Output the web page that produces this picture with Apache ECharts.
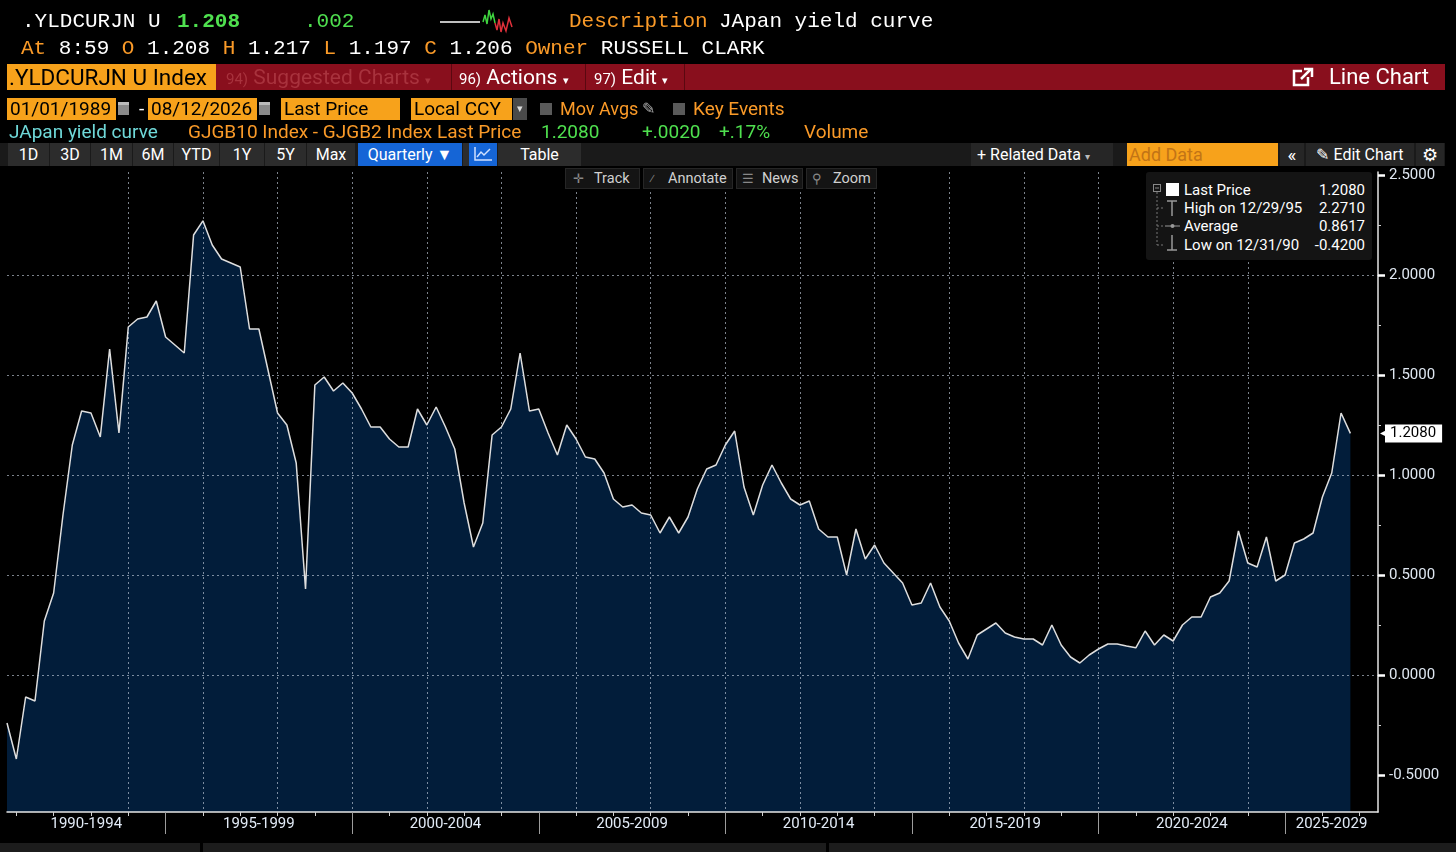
<!DOCTYPE html>
<html>
<head>
<meta charset="utf-8">
<script src="https://cdn.jsdelivr.net/npm/echarts@6/dist/echarts.min.js"></script>
<style>
html,body{margin:0;padding:0;background:#000;width:1456px;height:852px;overflow:hidden}
#chart{position:absolute;left:0;top:0;width:1456px;height:852px}
.a{position:absolute;white-space:pre}
.mono{font-family:"Liberation Mono","DejaVu Sans Mono",monospace;font-size:21px;line-height:24px;color:#fff}
.n{font-family:Roboto,"Liberation Sans",sans-serif}
.or{color:#fa9a28}.gr{color:#4fe04f}.wh{color:#fff}
.obox{position:absolute;background:#f7a21b;color:#000;font-size:19px;line-height:22px;height:22px;padding-left:3px;box-sizing:border-box}
.btn{position:absolute;top:143px;height:23px;background:#2c2c2c;color:#fff;font-size:16px;line-height:23px;text-align:center;box-sizing:border-box}
.tb{position:absolute;top:168px;height:21px;background:#141414;border:1px solid #262626;color:#d0d0d0;font-size:14.5px;line-height:19px;box-sizing:border-box;z-index:5}
.tb i{position:absolute;font-style:normal;color:#888;font-size:13px}
.tb b{position:absolute;font-weight:normal}
.lg{position:absolute;font-size:15px;line-height:18px;color:#fff;z-index:6}
.r5{font-size:19px;line-height:22px}
</style>
</head>
<body>
<div id="chart"></div>

<!-- row 1 -->
<div class="a mono" style="left:22px;top:10px">.YLDCURJN U</div>
<div class="a mono gr" style="left:177px;top:10px;font-weight:bold">1.208</div>
<div class="a mono gr" style="left:304px;top:10px">.002</div>
<svg class="a" style="left:440px;top:6px" width="76" height="30">
  <line x1="0" y1="16" x2="40" y2="16" stroke="#fff" stroke-width="1.5"/>
  <polyline points="43,16 45,9 47,18 49,4 51,13 53,8 55,17" fill="none" stroke="#3fd43f" stroke-width="1.5"/>
  <polyline points="55,17 57,24 59,13 61,26 63,17 66,25 69,12 72,21" fill="none" stroke="#e0303a" stroke-width="1.5"/>
</svg>
<div class="a mono or" style="left:569px;top:10px">Description</div>
<div class="a mono" style="left:719px;top:10px">JApan yield curve</div>
<!-- row 2 -->
<div class="a mono" style="left:21px;top:37px"><span class="or">At</span> 8:59 <span class="or">O</span> 1.208 <span class="or">H</span> 1.217 <span class="or">L</span> 1.197 <span class="or">C</span> 1.206 <span class="or">Owner</span> RUSSELL CLARK</div>

<!-- row 3 red bar -->
<div class="a" style="left:216px;top:64px;width:1229px;height:26px;background:#890f1d"></div>
<div class="a n" style="left:7px;top:64px;width:209px;height:26px;background:#f7a21b;color:#000;font-size:22.5px;line-height:26px;padding-left:2px;box-sizing:border-box">.YLDCURJN U Index</div>
<div class="a n" style="left:226px;top:64px;color:#a8323d;font-size:21px;line-height:26px"><span style="font-size:15px">94)</span> Suggested Charts <span style="font-size:11px">▾</span></div>
<div class="a" style="left:451px;top:64px;width:1px;height:26px;background:#5a0810"></div>
<div class="a n" style="left:459px;top:64px;color:#fff;font-size:21px;line-height:26px"><span style="font-size:15px">96)</span> Actions <span style="font-size:11px">▾</span></div>
<div class="a" style="left:585px;top:64px;width:1px;height:26px;background:#5a0810"></div>
<div class="a n" style="left:594px;top:64px;color:#fff;font-size:21px;line-height:26px"><span style="font-size:15px">97)</span> Edit <span style="font-size:11px">▾</span></div>
<div class="a" style="left:684px;top:64px;width:1px;height:26px;background:#5a0810"></div>
<svg class="a" style="left:1292px;top:67px" width="22" height="20">
  <rect x="2" y="4" width="14" height="14" fill="none" stroke="#fff" stroke-width="2.5"/>
  <rect x="10" y="0" width="12" height="10" fill="#890f1d"/>
  <polyline points="9,12 19,2" stroke="#fff" stroke-width="2.5"/>
  <polyline points="12,2 20,2 20,10" fill="none" stroke="#fff" stroke-width="2.5"/>
</svg>
<div class="a n" style="left:1329px;top:64px;color:#fff;font-size:22px;line-height:26px">Line Chart</div>

<!-- row 4 -->
<div class="obox n" style="left:7px;top:98px;width:109px">01/01/1989</div>
<div class="a" style="left:118px;top:102px;width:11px;height:13px;background:#8a8a8a;border-top:3px solid #bbb;box-sizing:border-box"></div>
<div class="a n wh" style="left:139px;top:97px;font-size:19px">-</div>
<div class="obox n" style="left:148px;top:98px;width:109px">08/12/2026</div>
<div class="a" style="left:259px;top:102px;width:11px;height:13px;background:#8a8a8a;border-top:3px solid #bbb;box-sizing:border-box"></div>
<div class="obox n" style="left:281px;top:98px;width:119px">Last Price</div>
<div class="obox n" style="left:411px;top:98px;width:101px">Local CCY</div>
<div class="a n" style="left:513px;top:98px;width:14px;height:22px;background:#4a4a4a;color:#ddd;font-size:11px;line-height:22px;text-align:center">▾</div>
<div class="a" style="left:540px;top:103px;width:12px;height:12px;background:#5a5a5a"></div>
<div class="a n or" style="left:560px;top:98px;font-size:18px;line-height:22px">Mov Avgs</div>
<div class="a n" style="left:642px;top:98px;font-size:16px;line-height:22px;color:#aaa">✎</div>
<div class="a" style="left:673px;top:103px;width:12px;height:12px;background:#5a5a5a"></div>
<div class="a n or r5" style="left:693px;top:98px">Key Events</div>

<!-- row 5 -->
<div class="a n r5" style="left:9px;top:121px;color:#6fd8d8">JApan yield curve</div>
<div class="a n or r5" style="left:188px;top:121px">GJGB10 Index - GJGB2 Index Last Price</div>
<div class="a n gr r5" style="left:541px;top:121px">1.2080</div>
<div class="a n gr r5" style="left:642px;top:121px">+.0020</div>
<div class="a n gr r5" style="left:719px;top:121px">+.17%</div>
<div class="a n or r5" style="left:804px;top:121px">Volume</div>

<!-- row 6 -->
<div class="a" style="left:0;top:143px;width:1445px;height:23px;background:#1a1a1a"></div>
<div class="btn n" style="left:8px;width:41px">1D</div>
<div class="btn n" style="left:50px;width:40px">3D</div>
<div class="btn n" style="left:91px;width:41px">1M</div>
<div class="btn n" style="left:133px;width:40px">6M</div>
<div class="btn n" style="left:174px;width:45px">YTD</div>
<div class="btn n" style="left:220px;width:44px">1Y</div>
<div class="btn n" style="left:265px;width:41px">5Y</div>
<div class="btn n" style="left:307px;width:48px">Max</div>
<div class="btn n" style="left:358px;width:104px;background:#1565d6">Quarterly ▼</div>
<div class="btn n" style="left:463px;width:6px;background:#2c2c2c"></div>
<div class="btn" style="left:469px;width:28px;background:#1565d6">
  <svg width="20" height="16" style="margin-top:3px"><polyline points="2,1 2,14 19,14" fill="none" stroke="#cfe0ff" stroke-width="1.5"/><polyline points="4,11 8,6 11,9 17,3" fill="none" stroke="#cfe0ff" stroke-width="1.5"/></svg>
</div>
<div class="btn n" style="left:498px;width:83px">Table</div>
<div class="btn n" style="left:971px;width:142px;background:#262626;text-align:left;padding-left:6px">+ Related Data <span style="font-size:10px;color:#bbb">▾</span></div>
<div class="btn n" style="left:1127px;width:151px;background:#f7a21b;color:#c27416;text-align:left;padding-left:2px;font-size:18px">Add Data</div>
<div class="btn n" style="left:1280px;width:24px;background:#262626;font-size:19px">«</div>
<div class="btn n" style="left:1306px;width:108px;background:#262626">✎ Edit Chart</div>
<div class="btn n" style="left:1416px;width:28px;background:#262626;font-size:18px">⚙</div>

<!-- plot toolbar -->
<div class="tb n" style="left:565px;width:75px"><i style="left:7px">✛</i><b style="left:28px">Track</b></div>
<div class="tb n" style="left:643px;width:90px"><i style="left:5px">⁄</i><b style="left:24px">Annotate</b></div>
<div class="tb n" style="left:736px;width:67px"><i style="left:5px">☰</i><b style="left:25px">News</b></div>
<div class="tb n" style="left:806px;width:71px"><i style="left:5px">⚲</i><b style="left:26px">Zoom</b></div>

<!-- legend box -->
<div class="a" style="left:1146px;top:172px;width:226px;height:88px;background:#141414;border-radius:3px;z-index:5"></div>
<svg class="a" style="left:1150px;top:180px;z-index:6" width="34" height="72">
  <rect x="3.5" y="4.5" width="7" height="7" fill="none" stroke="#888"/>
  <line x1="5" y1="8" x2="9" y2="8" stroke="#888"/>
  <line x1="7" y1="12" x2="7" y2="65" stroke="#777" stroke-dasharray="2,2"/>
  <line x1="7" y1="28" x2="13" y2="28" stroke="#777" stroke-dasharray="2,2"/>
  <line x1="7" y1="46" x2="13" y2="46" stroke="#777" stroke-dasharray="2,2"/>
  <line x1="7" y1="65" x2="13" y2="65" stroke="#777" stroke-dasharray="2,2"/>
  <rect x="16" y="3" width="13" height="13" fill="#fff"/>
  <line x1="17" y1="21" x2="27" y2="21" stroke="#999" stroke-width="1.5"/>
  <line x1="22" y1="21" x2="22" y2="36" stroke="#999" stroke-width="1.5"/>
  <line x1="15" y1="46" x2="30" y2="46" stroke="#999"/>
  <circle cx="22.5" cy="46" r="2" fill="#999"/>
  <line x1="22" y1="55" x2="22" y2="70" stroke="#999" stroke-width="1.5"/>
  <line x1="17" y1="70" x2="27" y2="70" stroke="#999" stroke-width="1.5"/>
</svg>
<div class="lg n" style="left:1184px;top:181px">Last Price</div>
<div class="lg n" style="left:1184px;top:199px">High on 12/29/95</div>
<div class="lg n" style="left:1184px;top:217px">Average</div>
<div class="lg n" style="left:1184px;top:236px">Low on 12/31/90</div>
<div class="lg n" style="left:1296px;top:181px;width:69px;text-align:right">1.2080</div>
<div class="lg n" style="left:1296px;top:199px;width:69px;text-align:right">2.2710</div>
<div class="lg n" style="left:1296px;top:217px;width:69px;text-align:right">0.8617</div>
<div class="lg n" style="left:1296px;top:236px;width:69px;text-align:right">-0.4200</div>

<!-- bottom panels -->
<div class="a" style="left:0;top:843px;width:200px;height:9px;background:#1c1c1c"></div>
<div class="a" style="left:203px;top:843px;width:623px;height:9px;background:#1c1c1c"></div>
<div class="a" style="left:829px;top:843px;width:627px;height:9px;background:#1c1c1c"></div>

<script>
// quarter-end readings of GJGB10 - GJGB2, first point is Sep 1990
const firstQuarterEnd = 1990.75;
const yld1990s = [-0.24, -0.42,
  -0.11, -0.13, 0.27, 0.41,
  0.80, 1.15, 1.32, 1.31,
  1.19, 1.63, 1.21, 1.74,
  1.78, 1.79, 1.87, 1.69,
  1.65, 1.61, 2.20, 2.271,
  2.15, 2.08, 2.06, 2.04,
  1.73, 1.73, 1.52, 1.31,
  1.25, 1.06, 0.43, 1.45,
  1.49, 1.42, 1.46, 1.41];
const yld2000s = [1.33, 1.24, 1.24, 1.18,
  1.14, 1.14, 1.33, 1.25,
  1.34, 1.24, 1.13, 0.86,
  0.64, 0.76, 1.20, 1.24,
  1.33, 1.61, 1.32, 1.33,
  1.21, 1.10, 1.25, 1.18,
  1.09, 1.08, 1.01, 0.88,
  0.84, 0.85, 0.81, 0.80,
  0.71, 0.79, 0.71, 0.79,
  0.93, 1.03, 1.05, 1.15];
const yld2010s = [1.22, 0.94, 0.80, 0.95,
  1.05, 0.96, 0.88, 0.85,
  0.87, 0.73, 0.69, 0.69,
  0.50, 0.73, 0.58, 0.65,
  0.56, 0.51, 0.46, 0.35,
  0.36, 0.46, 0.34, 0.27,
  0.16, 0.08, 0.20, 0.23,
  0.26, 0.21, 0.19, 0.18,
  0.18, 0.15, 0.25, 0.15,
  0.09, 0.06, 0.10, 0.13];
const yld2020s = [0.155, 0.155, 0.145, 0.136,
  0.22, 0.15, 0.20, 0.17,
  0.25, 0.29, 0.29, 0.39,
  0.41, 0.47, 0.72, 0.56,
  0.54, 0.69, 0.47, 0.50,
  0.66, 0.68, 0.71, 0.89,
  1.01, 1.31, 1.208];
const lastPrice = 1.208;

const spanLabels = ['1990-1994', '1995-1999', '2000-2004', '2005-2009',
  '2010-2014', '2015-2019', '2020-2024', '2025-2029'];
const yTicks = [-0.5, 0, 0.5, 1.0, 1.5, 2.0, 2.5];

const xMin = firstQuarterEnd, xMax = 2027.49;
const yMin = -0.685, yMax = 2.515;

const values = yld1990s.concat(yld2000s, yld2010s, yld2020s);
const points = values.map((v, i) => [firstQuarterEnd + i * 0.25, v]);

const yearTicks = [], gridYears = [], spanBounds = [], spanCenters = [];
for (let y = 1991; y <= 2027; y++) {
  yearTicks.push(y);
  if (y % 2 === 0) gridYears.push(y);
  if (y % 5 === 0) spanBounds.push(y);
}
spanLabels.forEach(s => {
  const start = +s.slice(0, 4);
  const lo = Math.max(start, xMin), hi = Math.min(start + 5, xMax);
  spanCenters.push((lo + hi) / 2);
});

const gridColor = 'rgba(200,210,225,0.62)';
const labelFont = 'Roboto, "Liberation Sans", sans-serif';

const chart = echarts.init(document.getElementById('chart'));
chart.setOption({
  backgroundColor: 'transparent',
  animation: false,
  grid: { left: 7, top: 172, width: 1371, height: 640, containLabel: false },
  xAxis: [{
    type: 'value', min: xMin, max: xMax, position: 'bottom', z: 4,
    axisLine: { show: true, onZero: false, lineStyle: { color: '#e6e6e6', width: 1.5 } },
    axisTick: { show: true, customValues: yearTicks, length: 4, lineStyle: { color: '#d0d0d0' } },
    axisLabel: { show: false },
    splitLine: { show: false }
  }, {
    type: 'value', min: xMin, max: xMax, position: 'bottom', z: 3,
    axisLine: { show: false, onZero: false },
    axisTick: { show: false, customValues: gridYears },
    axisLabel: { show: false },
    splitLine: { show: true, showMinLine: false, showMaxLine: false, lineStyle: { color: gridColor, type: [2, 3], width: 1 } }
  }, {
    type: 'value', min: xMin, max: xMax, position: 'bottom', z: 4,
    axisLine: { show: false, onZero: false },
    axisTick: { show: true, customValues: spanBounds, length: 22, lineStyle: { color: '#9c9c9c' } },
    axisLabel: {
      show: true, customValues: spanCenters, margin: 5,
      color: '#e2ebf7', fontSize: 15, fontFamily: labelFont,
      formatter: v => spanLabels[Math.floor((v - 1990) / 5)]
    },
    splitLine: { show: false }
  }],
  yAxis: [{
    type: 'value', min: yMin, max: yMax, position: 'right', z: 3,
    axisLine: { show: true, onZero: false, lineStyle: { color: '#e6e6e6', width: 1.5 } },
    axisTick: { show: true, customValues: yTicks, length: 7, lineStyle: { color: '#ffffff', width: 2.5 } },
    minorTick: { show: true, splitNumber: 2, length: 3, lineStyle: { color: '#cfcfcf' } },
    axisLabel: {
      customValues: yTicks, margin: 11, color: '#dfe7f1', fontSize: 15, fontFamily: labelFont,
      formatter: v => v.toFixed(4)
    },
    splitLine: { show: true, showMinLine: false, showMaxLine: false, lineStyle: { color: gridColor, type: [2, 3], width: 1 } }
  }, {
    // last price tag
    type: 'value', min: yMin, max: yMax, position: 'right', z: 5,
    axisLine: { show: false, onZero: false }, axisTick: { show: false }, splitLine: { show: false },
    axisLabel: {
      customValues: [lastPrice], margin: 7, color: '#000', backgroundColor: '#fff',
      padding: [2, 6, 1, 5], fontSize: 15, fontFamily: labelFont,
      formatter: v => v.toFixed(4)
    }
  }, {
    // pointer of the tag
    type: 'value', min: yMin, max: yMax, position: 'right', z: 5,
    axisLine: { show: false, onZero: false }, axisTick: { show: false }, splitLine: { show: false },
    axisLabel: {
      customValues: [lastPrice], margin: 2, color: '#fff', fontSize: 10,
      formatter: () => '◀'
    }
  }],
  series: [{
    type: 'line', xAxisIndex: 0, yAxisIndex: 0,
    data: points, symbol: 'none', z: 2,
    lineStyle: { color: '#dedede', width: 1.5 },
    areaStyle: { color: '#021d3a', opacity: 1, origin: 'start' }
  }]
});
</script>
</body>
</html>
